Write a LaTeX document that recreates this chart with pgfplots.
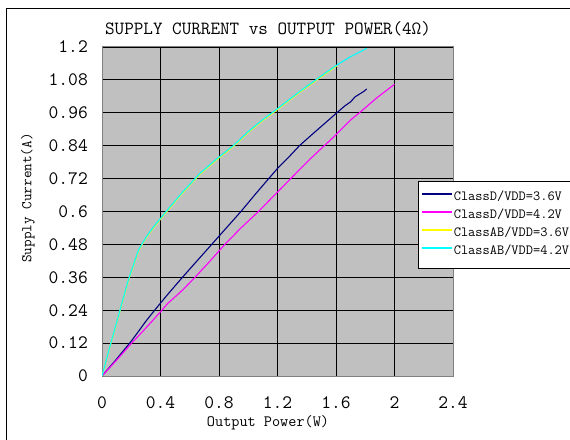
\documentclass[border=0pt]{standalone}
\usepackage{pgfplots}
\pgfplotsset{compat=1.18}
\usepackage{fontspec}
\setmainfont{Latin Modern Mono}
\definecolor{plotgray}{RGB}{192,192,192}
\definecolor{framegray}{RGB}{128,128,128}
\definecolor{navy}{RGB}{0,0,128}
\definecolor{mag}{RGB}{255,0,255}
\definecolor{yel}{RGB}{255,255,0}
\definecolor{cya}{RGB}{0,255,255}
\begin{document}
\begin{tikzpicture}
\useasboundingbox (0pt,0pt) rectangle (570pt,439pt);
\clip (0pt,0pt) rectangle (570pt,439pt);
\fill[white] (0pt,0pt) rectangle (570pt,439pt);
\draw[black, line width=1pt] (6pt,-20pt) -- (6pt,430pt) -- (620pt,430pt);
\node[font=\fontsize{18.6}{19}\selectfont, anchor=center] at (268pt,410pt) {SUPPLY CURRENT vs OUTPUT POWER(4Ω)};
\begin{axis}[
  at={(102pt,63pt)}, anchor=south west,
  scale only axis, width=351pt, height=329pt,
  xmin=0, xmax=2.4, ymin=0, ymax=1.2,
  xtick={0,0.4,0.8,1.2,1.6,2,2.4},
  xticklabels={0,0.4,0.8,1.2,1.6,2,2.4},
  ytick={0,0.12,0.24,0.36,0.48,0.6,0.72,0.84,0.96,1.08,1.2},
  yticklabels={0,0.12,0.24,0.36,0.48,0.6,0.72,0.84,0.96,1.08,1.2},
  /pgf/number format/assume math mode=true,
  major tick length=0pt,
  grid=major,
  major grid style={black, line width=0.9pt},
  axis line style={draw=framegray, line width=1pt},
  axis background/.style={fill=plotgray},
  xticklabel style={font=\fontsize{19}{19}\selectfont, anchor=center, inner sep=0pt, yshift=-27pt},
  yticklabel style={font=\fontsize{19}{19}\selectfont, anchor=east, inner sep=0pt, xshift=-14pt},
  xlabel={Output Power(W)},
  ylabel={Supply Current(A)},
  xlabel style={font=\fontsize{15.8}{16}\selectfont, at={(axis description cs:0.473,-0.143)}, anchor=center},
  ylabel style={font=\fontsize{14.8}{15}\selectfont, at={(axis description cs:-0.211,0.541)}, anchor=center},
  legend style={at={(0.9003,0.5927)}, anchor=north west, draw=black, fill=white,
    font=\fontsize{14}{15}\selectfont, inner xsep=3pt, inner ysep=8pt, row sep=1pt,
    nodes={inner sep=1pt, text height=10pt, text depth=5pt}, cells={anchor=west}},
  legend image code/.code={\draw[#1, line width=1.6pt] (0pt,4pt) -- (30pt,4pt);},
]
\addplot[navy, line width=1.1pt] coordinates {
(0,0) (0.1,0.062) (0.2,0.127) (0.25,0.163) (0.3,0.2) (0.36,0.24) (0.45,0.298) (0.55,0.36) (0.65,0.42) (0.75,0.48) (0.85,0.54) (0.95,0.6) (1.05,0.664) (1.14,0.72) (1.2,0.757) (1.28,0.8) (1.35,0.84) (1.43,0.878) (1.52,0.92) (1.61,0.962) (1.66,0.985) (1.7,1.0) (1.73,1.018) (1.76,1.028) (1.79,1.038) (1.81,1.047)
};
\addlegendentry{ClassD/VDD=3.6V}
\addplot[mag, line width=1.1pt] coordinates {
(0,0) (0.1,0.058) (0.203,0.12) (0.3,0.175) (0.41,0.24) (0.45,0.265) (0.49,0.284) (0.55,0.313) (0.636,0.36) (0.74,0.42) (0.84,0.48) (0.95,0.54) (1.07,0.6) (1.18,0.66) (1.29,0.72) (1.42,0.79) (1.52,0.84) (1.6,0.88) (1.7,0.934) (1.76,0.96) (1.88,1.015) (2.0,1.064)
};
\addlegendentry{ClassD/VDD=4.2V}
\addplot[yel, line width=1.1pt] coordinates {
(0,0) (0.05,0.098) (0.1,0.193) (0.18,0.347) (0.25,0.457) (0.3,0.502) (0.33,0.525) (0.38,0.559) (0.442,0.599) (0.55,0.667) (0.67,0.736) (0.78,0.787) (0.898,0.837) (1.012,0.894) (1.1,0.932) (1.2,0.972) (1.35,1.034) (1.48,1.084) (1.605,1.131)
};
\addlegendentry{ClassAB/VDD=3.6V}
\addplot[cya, line width=1.1pt] coordinates {
(0,0) (0.05,0.1) (0.1,0.195) (0.18,0.35) (0.25,0.46) (0.3,0.505) (0.33,0.528) (0.38,0.562) (0.442,0.602) (0.55,0.67) (0.67,0.739) (0.78,0.79) (0.898,0.84) (1.012,0.897) (1.1,0.935) (1.2,0.975) (1.35,1.037) (1.48,1.087) (1.605,1.134) (1.7,1.165) (1.81,1.195)
};
\addlegendentry{ClassAB/VDD=4.2V}
\end{axis}
\end{tikzpicture}
\end{document}
